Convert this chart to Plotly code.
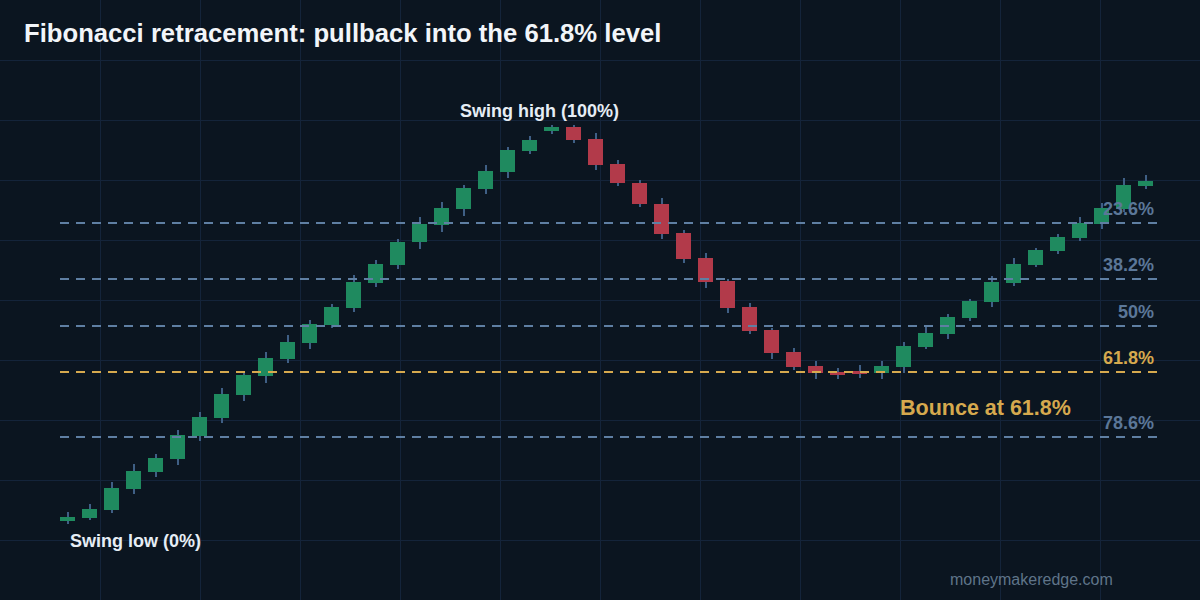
import plotly.graph_objects as go

# Prices (price scale runs 0..600 over the plot height)
opens = [79,82,90,111,128,141,164,182,205,224,241,257,275,292,317,335,358,375,391,411,428,449,469,473,461,436,417,396,367,342,319,293,270,248,234,228,229,227,233,253,266,282,298,317,335,349,362,376,391,414]
closes = [83,91,112,129,142,165,183,206,225,242,258,276,293,318,336,358,376,392,412,429,450,460,473,460,435,417,396,366,341,318,292,269,247,233,227,225,226,234,254,267,283,299,318,336,350,363,377,392,415,419]
highs = [88,96,118,136,146,170,188,212,228,248,265,280,296,325,340,361,383,398,415,435,453,464,475,475,467,440,420,402,370,347,321,297,272,252,239,232,235,239,258,274,286,301,324,342,352,366,383,397,422,425]
lows = [76,80,87,106,123,135,159,177,199,217,237,251,272,288,313,331,351,368,384,406,422,446,466,457,430,414,393,361,337,312,287,266,241,230,221,221,222,221,227,251,261,279,293,314,333,346,359,371,388,411]
levels = [377, 321, 274, 228, 163]
level_labels = ["23.6%", "38.2%", "50%", "61.8%", "78.6%"]

BG = "#0b1520"
GRID = "#14243a"
UP = "#1f8a5f"
DOWN = "#b23a4a"
WICK = "#3f5f85"
LEVEL = "#5f7fa3"
LEVEL_TEXT = "#5b7798"
GOLD = "#d6a94e"

n = len(opens)
x = list(range(n))
bases = [min(o, c) for o, c in zip(opens, closes)]
heights = [abs(c - o) for o, c in zip(opens, closes)]
colors = [UP if c >= o else DOWN for o, c in zip(opens, closes)]

fig = go.Figure()
fig.add_trace(go.Bar(x=x, y=[h - l for h, l in zip(highs, lows)], base=lows,
                     width=2 / 22, offset=-0.5 / 22, marker=dict(color=WICK, line_width=0), hoverinfo="skip"))
fig.add_trace(go.Bar(x=x, y=heights, base=bases, width=15 / 22,
                     marker=dict(color=colors, line_width=0)))

fx0 = -7.5 / 22
fx1 = n - 1 + 11.5 / 22
annotations = []
for price, label in zip(levels, level_labels):
    is_gold = label == "61.8%"
    color = GOLD if is_gold else LEVEL
    fig.add_shape(type="line", x0=fx0, x1=fx1, y0=price, y1=price, layer="above",
                  line=dict(color=color, width=2, dash="9px,7px"))
    annotations.append(dict(x=fx1 - 1 / 22, y=price, text="<b>" + label + "</b>", showarrow=False,
                            xanchor="right", yanchor="bottom", yshift=2,
                            font=dict(family="Liberation Sans", size=18,
                                      color=GOLD if is_gold else LEVEL_TEXT)))


def note(text, xv, yv, size, color):
    annotations.append(dict(x=xv, y=yv, text=text, showarrow=False, xanchor="left", yanchor="middle",
                            font=dict(family="Liberation Sans", size=size, color=color)))


note("<b>Swing low (0%)</b>", 0.01, 59, 18, "#e6edf5")
note("<b>Swing high (100%)</b>", 17.73, 489, 18, "#e6edf5")
note("<b>Bounce at 61.8%</b>", 37.76, 192, 21.5, GOLD)

annotations.append(dict(xref="paper", yref="paper", x=948 / 1200, y=1 - 579 / 600, text="moneymakeredge.com",
                        showarrow=False, xanchor="left", yanchor="middle",
                        font=dict(family="Liberation Sans", size=16, color="#5f7489")))
annotations.append(dict(xref="paper", yref="paper", x=22 / 1200, y=1 - 33 / 600,
                        text="<b>Fibonacci retracement: pullback into the 61.8% level</b>",
                        showarrow=False, xanchor="left", yanchor="middle",
                        font=dict(family="Liberation Sans", size=25.66, color="#f2f5f9")))

fig.update_layout(
    width=1200, height=600, autosize=False, margin=dict(l=0, r=0, t=0, b=0),
    paper_bgcolor=BG, plot_bgcolor=BG, showlegend=False, barmode="overlay", bargap=0,
    annotations=annotations,
    xaxis=dict(range=[-67.5 / 22, (1200 - 67.5) / 22], tick0=-67.5 / 22, dtick=100 / 22, showticklabels=False,
               showgrid=True, gridcolor=GRID, gridwidth=1, zeroline=False, ticks=""),
    yaxis=dict(range=[0, 600], tick0=0, dtick=60, showticklabels=False,
               showgrid=True, gridcolor=GRID, gridwidth=1, zeroline=False, ticks=""),
)
fig.write_html("out.html", config=dict(displayModeBar=False),
               post_script="document.body.style.margin='0';document.body.style.background='#0b1520';")
